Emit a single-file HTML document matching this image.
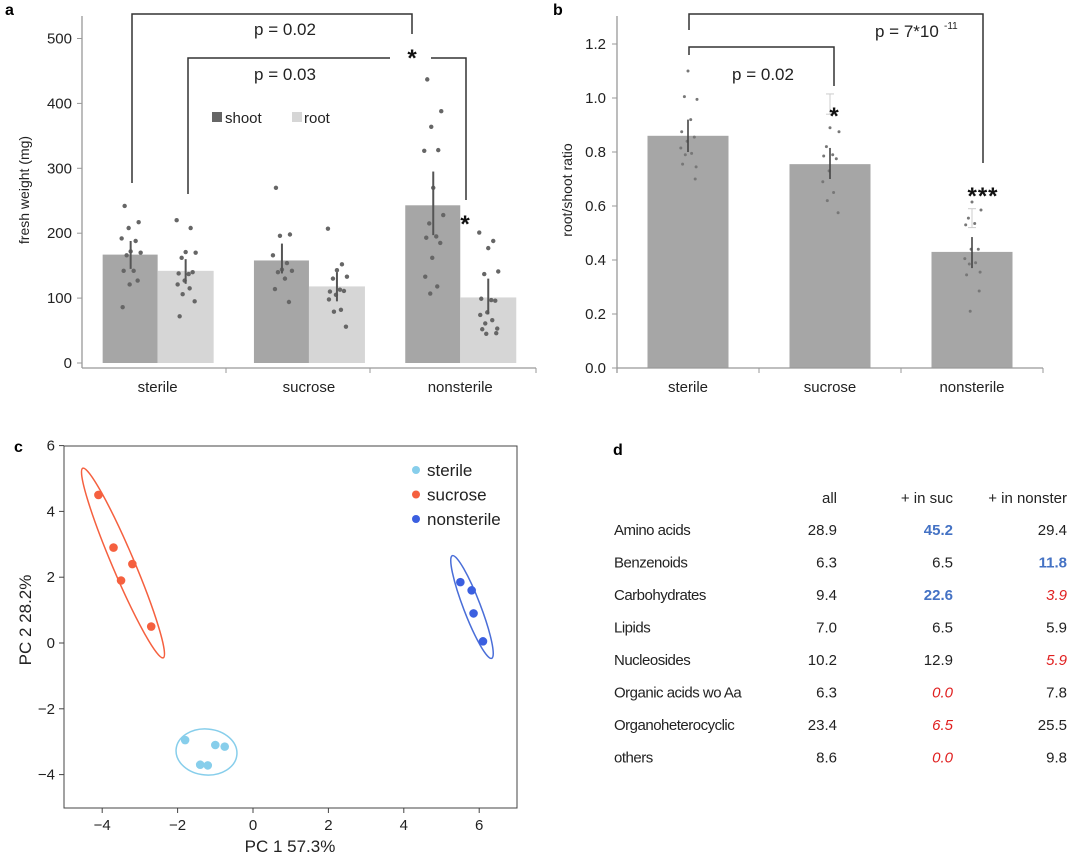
<!DOCTYPE html>
<html><head><meta charset="utf-8"><style>
body{margin:0;background:#fff;width:1080px;height:858px;overflow:hidden;font-family:"Liberation Sans",Arial,sans-serif}
svg{position:absolute;left:0;top:0}
text{font-family:"Liberation Sans",Arial,sans-serif}
</style></head><body>
<svg id="s" width="1080" height="858"></svg>
<script>
// ---- Panel a data ----
const catsA=["sterile","sucrose","nonsterile"];
const shootMean=[167,158,243];
const rootMean=[142,118,101];
const shootErr=[[145,188],[138,184],[197,295]];
const rootErr=[[122,160],[95,140],[75,130]];
const shootPts=[[242,217,208,192,188,172,170,166,142,142,127,121,86],[270,198,196,166,154,144,142,140,130,114,94],[437,388,364,327,328,270,228,215,195,193,185,162,133,118,107]];
const rootPts=[[220,208,171,170,162,137,138,140,127,121,115,106,95,72],[207,152,143,133,130,113,110,111,105,98,82,79,56],[201,188,177,141,137,97,99,96,78,74,66,61,53,52,46,45]];
const jitA=[-6,8,-2,-9,5,0,10,-4,3,-7,7,-1,-8,4,-3,9];
const ticksA=[0,100,200,300,400,500];
// ---- Panel b data ----
const ratioMean=[0.86,0.755,0.43];
const ratioErr=[[0.80,0.92],[0.70,0.815],[0.37,0.485]];
const ratioErrHi=[null,[0.94,1.015],[0.52,0.59]];
const ratioPts=[[1.10,0.995,1.005,0.92,0.875,0.855,0.84,0.815,0.795,0.79,0.745,0.755,0.70],[0.89,0.875,0.82,0.79,0.785,0.775,0.73,0.69,0.65,0.62,0.575],[0.615,0.585,0.555,0.535,0.53,0.44,0.44,0.405,0.39,0.385,0.355,0.345,0.285,0.21]];
const ticksB=[0,0.2,0.4,0.6,0.8,1.0,1.2];
// ---- Panel c data ----
const pcGroups=["sterile","sucrose","nonsterile"];
const pcX=[[-1.8,-1.0,-0.75,-1.4,-1.2],[-4.1,-3.7,-3.2,-3.5,-2.7],[5.5,5.8,5.85,6.1]];
const pcY=[[-2.95,-3.1,-3.15,-3.7,-3.72],[4.5,2.9,2.4,1.9,0.5],[1.85,1.6,0.9,0.05]];
const pcTicksX=[-4,-2,0,2,4,6];
const pcTicksY=[-4,-2,0,2,4,6];
// ---- Panel d data ----
const rowsD=["Amino acids","Benzenoids","Carbohydrates","Lipids","Nucleosides","Organic acids wo Aa","Organoheterocyclic","others"];
const colAll=["28.9","6.3","9.4","7.0","10.2","6.3","23.4","8.6"];
const colSuc=["45.2","6.5","22.6","6.5","12.9","0.0","6.5","0.0"];
const colNon=["29.4","11.8","3.9","5.9","5.9","7.8","25.5","9.8"];
const flagSuc=[1,0,1,0,0,-1,-1,-1];
const flagNon=[0,1,-1,0,-1,0,0,0];

const S=document.getElementById('s');const NS="http://www.w3.org/2000/svg";
function el(t,a,txt){const e=document.createElementNS(NS,t);for(const k in a)e.setAttribute(k,a[k]);if(txt!==undefined)e.textContent=txt;S.appendChild(e);return e;}
function line(x1,y1,x2,y2,c,w){return el('line',{x1,y1,x2,y2,stroke:c,'stroke-width':w});}

// ===== Panel a =====
const ya=v=>363-v*0.649;
const xa=i=>82+(i+0.5)*151.3;
let e=el('text',{x:5,y:15,'font-size':16,'font-weight':'bold'},'a');

catsA.forEach((c,i)=>{
 const cx=xa(i);
 e=el('rect',{x:cx-55,y:ya(shootMean[i]),width:55,height:ya(0)-ya(shootMean[i]),fill:'#a6a6a6'});
 
 e=el('rect',{x:cx,y:ya(rootMean[i]),width:56,height:ya(0)-ya(rootMean[i]),fill:'#d6d6d6'});
 
 shootPts[i].forEach((v,j)=>{e=el('circle',{cx:cx-27+jitA[j%16],cy:ya(v),r:2.2,fill:'#666'});
  });
 rootPts[i].forEach((v,j)=>{e=el('circle',{cx:cx+28+jitA[(j+3)%16],cy:ya(v),r:2.2,fill:'#666'});
  });
 e=line(cx-27,ya(shootErr[i][0]),cx-27,ya(shootErr[i][1]),'#555',2);
 
 e=line(cx+28,ya(rootErr[i][0]),cx+28,ya(rootErr[i][1]),'#555',2);
 
 e=el('text',{x:cx,y:392,'font-size':15,'text-anchor':'middle',fill:'#222'},c);
 
});
line(82,16,82,368,'#999',1.3);line(82,368,536,368,'#999',1.3);
[226,370,536].forEach(x=>line(x,368,x,373,'#999',1));
ticksA.forEach(t=>{line(77,ya(t),82,ya(t),'#999',1);
 e=el('text',{x:72,y:ya(t)+5,'font-size':15,'text-anchor':'end',fill:'#222'},t);
 });
e=el('text',{x:0,y:0,'font-size':14,'text-anchor':'middle',transform:'translate(29,190) rotate(-90)',fill:'#222'},'fresh weight (mg)');

el('polyline',{points:'132,183 132,14 412,14 412,34',fill:'none',stroke:'#333','stroke-width':1.5});
el('polyline',{points:'188,194 188,58 390,58',fill:'none',stroke:'#333','stroke-width':1.5});
el('polyline',{points:'431,58 466,58 466,200',fill:'none',stroke:'#333','stroke-width':1.5});
el('text',{x:285,y:35,'font-size':17,'text-anchor':'middle',fill:'#222'},'p = 0.02');
el('text',{x:285,y:80,'font-size':17,'text-anchor':'middle',fill:'#222'},'p = 0.03');
el('text',{x:412,y:66,'font-size':24,'font-weight':'bold','text-anchor':'middle',fill:'#111'},'*');
el('text',{x:465,y:232,'font-size':24,'font-weight':'bold','text-anchor':'middle',fill:'#111'},'*');
el('rect',{x:212,y:112,width:10,height:10,fill:'#666'});
e=el('text',{x:225,y:123,'font-size':15,fill:'#222'},'shoot');
el('rect',{x:292,y:112,width:10,height:10,fill:'#d6d6d6'});
e=el('text',{x:304,y:123,'font-size':15,fill:'#222'},'root');

// ===== Panel b =====
const yb=v=>368-v*270;
const xb=i=>617+(i+0.5)*142;
el('text',{x:553,y:15,'font-size':16,'font-weight':'bold'},'b');
catsA.forEach((c,i)=>{
 const cx=xb(i);
 e=el('rect',{x:cx-40.5,y:yb(ratioMean[i]),width:81,height:yb(0)-yb(ratioMean[i]),fill:'#a6a6a6'});
 
 ratioPts[i].forEach((v,j)=>{e=el('circle',{cx:cx+jitA[(j+5)%16]*0.9,cy:yb(v),r:1.5,fill:'#777'});
  });
 e=line(cx,yb(ratioErr[i][0]),cx,yb(ratioErr[i][1]),'#444',1.6);
 
 if(ratioErrHi[i]){const h=ratioErrHi[i];line(cx,yb(h[0]),cx,yb(h[1]),'#ccc',1);
  line(cx-4,yb(h[0]),cx+4,yb(h[0]),'#ccc',1);line(cx-4,yb(h[1]),cx+4,yb(h[1]),'#ccc',1);}
 e=el('text',{x:cx,y:392,'font-size':15,'text-anchor':'middle',fill:'#222'},c);
 
});
line(617,16,617,373,'#999',1.3);line(617,368,1043,368,'#999',1.3);
[759,901,1043].forEach(x=>line(x,368,x,373,'#999',1));
ticksB.forEach(t=>{line(612,yb(t),617,yb(t),'#999',1);
 e=el('text',{x:606,y:yb(t)+5,'font-size':15,'text-anchor':'end',fill:'#222'},t.toFixed(1));
 });
e=el('text',{x:0,y:0,'font-size':14,'text-anchor':'middle',transform:'translate(572,190) rotate(-90)',fill:'#222'},'root/shoot ratio');

el('polyline',{points:'689,30 689,14 983,14 983,163',fill:'none',stroke:'#333','stroke-width':1.5});
el('polyline',{points:'689,55 689,47 834,47 834,86',fill:'none',stroke:'#333','stroke-width':1.5});
el('text',{x:763,y:80,'font-size':17,'text-anchor':'middle',fill:'#222'},'p = 0.02');
el('text',{x:875,y:37,'font-size':17,fill:'#222'},'p = 7*10');
el('text',{x:944,y:29,'font-size':10,fill:'#222'},'-11');
el('text',{x:834,y:124,'font-size':24,'font-weight':'bold','text-anchor':'middle',fill:'#111'},'*');
el('text',{x:983,y:204,'font-size':24,'font-weight':'bold','text-anchor':'middle',fill:'#111','letter-spacing':'1'},'***');

// ===== Panel c =====
const xc=v=>253+v*37.7;const yc=v=>643-v*32.9;
el('text',{x:14,y:452,'font-size':16,'font-weight':'bold'},'c');
el('rect',{x:64,y:446,width:453,height:362,fill:'none',stroke:'#444','stroke-width':1});
pcTicksX.forEach(t=>{line(xc(t),808,xc(t),813,'#444',1);
 e=el('text',{x:xc(t),y:830,'font-size':15,'text-anchor':'middle',fill:'#222'},t<0?'−'+(-t):t);
 });
pcTicksY.forEach(t=>{line(59,yc(t),64,yc(t),'#444',1);
 e=el('text',{x:55,y:yc(t)+5,'font-size':15,'text-anchor':'end',fill:'#222'},t<0?'−'+(-t):t);
 });
el('text',{x:290,y:852,'font-size':17,'text-anchor':'middle',fill:'#222'},'PC 1 57.3%');
el('text',{x:0,y:0,'font-size':17,'text-anchor':'middle',transform:'translate(31,620) rotate(-90)',fill:'#222'},'PC 2 28.2%');
const colsC=['#87ceeb','#f5603f','#3b5fe0'];
const ellC=['#87ceeb','#f5603f','#4a6ed8'];
el('ellipse',{cx:206.5,cy:752,rx:30.5,ry:23,fill:'none',stroke:ellC[0],'stroke-width':1.5,transform:'rotate(5 206.5 752)'});
el('ellipse',{cx:123,cy:563,rx:103,ry:11,fill:'none',stroke:ellC[1],'stroke-width':1.5,transform:'rotate(67 123 563)'});
el('ellipse',{cx:472,cy:607,rx:55,ry:8.5,fill:'none',stroke:ellC[2],'stroke-width':1.5,transform:'rotate(69 472 607)'});
pcGroups.forEach((g,i)=>{
 pcX[i].forEach((v,j)=>{e=el('circle',{cx:xc(v),cy:yc(pcY[i][j]),r:4.3,fill:colsC[i]});
  });
 el('circle',{cx:416,cy:470+i*24.5,r:4,fill:colsC[i]});
 e=el('text',{x:427,y:476+i*24.5,'font-size':17,fill:'#222'},g);
 
});

// ===== Panel d =====
el('text',{x:613,y:455,'font-size':16,'font-weight':'bold'},'d');
[['all',837],['+ in suc',953],['+ in nonster',1067]].forEach(h=>{
 e=el('text',{x:h[1],y:503,'font-size':15,'text-anchor':'end',fill:'#222'},h[0]);
 });
const fc=f=>f>0?'#4472c4':(f<0?'#e02020':'#222');
rowsD.forEach((r,i)=>{
 const y=535+i*32.5;
 e=el('text',{x:614,y:y,'font-size':15,fill:'#222','letter-spacing':'-0.5'},r);
 
 el('text',{x:837,y:y,'font-size':15,'text-anchor':'end',fill:'#222'},colAll[i]);
 const a={x:953,y:y,'font-size':15,'text-anchor':'end',fill:fc(flagSuc[i])};
 if(flagSuc[i]>0)a['font-weight']='bold';if(flagSuc[i]<0)a['font-style']='italic';
 el('text',a,colSuc[i]);
 const b={x:1067,y:y,'font-size':15,'text-anchor':'end',fill:fc(flagNon[i])};
 if(flagNon[i]>0)b['font-weight']='bold';if(flagNon[i]<0)b['font-style']='italic';
 el('text',b,colNon[i]);
});
</script>
</body></html>
